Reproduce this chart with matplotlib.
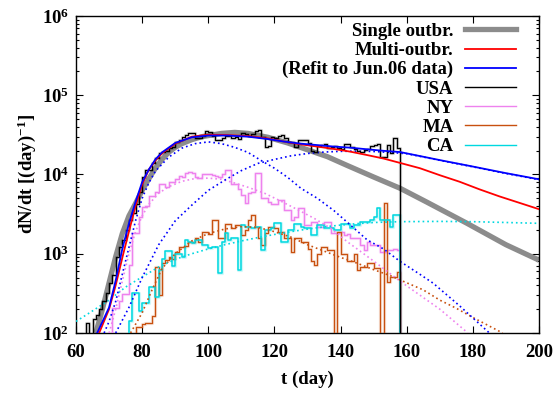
import matplotlib
matplotlib.use("Agg")
import matplotlib.pyplot as plt
import numpy as np
from matplotlib.ticker import LogLocator, FixedLocator, NullFormatter
from matplotlib.lines import Line2D

plt.rcParams['font.family'] = ['Liberation Serif', 'DejaVu Serif']
plt.rcParams['font.weight'] = 'bold'
plt.rcParams['mathtext.fontset'] = 'custom'
plt.rcParams['mathtext.rm'] = 'Liberation Serif:bold'
plt.rcParams['mathtext.bf'] = 'Liberation Serif:bold'
plt.rcParams['mathtext.it'] = 'Liberation Serif:bold'

# ---------------- data (daily counts; first day of each series) ----------------
usa_start = 62
usa = [0, 134, 0, 150, 170, 200, 250, 320, 430, 540, 900, 1200, 1500, 2000, 2700, 3300,
       4200, 6000, 9400, 11500, 11500, 14000, 16000, 18700, 19500, 20000, 21600, 22500,
       25900, 27000, 30000, 31700, 33400, 33000, 28800, 29000, 31000, 35000, 34000, 31000,
       27000, 27500, 29000, 31000, 31000, 29000, 30000, 28000, 33000, 32000, 31000, 32000,
       35000, 36600, 30000, 22000, 23000, 29500, 29000, 31000, 31500, 29000, 26000, 26000,
       22500, 27000, 27000, 27000, 25000, 20000, 19000, 23000, 23500, 24000, 21500, 22000,
       23000, 21500, 21000, 24000, 24500, 22000, 21000, 20000, 19500, 20500, 21000, 23000,
       23500, 24000, 16700, 16700, 23500, 18700, 29000, 21500]

ny_start = 71
ny = [207, 207, 250, 315, 315, 720, 1830, 1830, 2900, 3900, 4000, 5300, 5300, 6000, 7500,
      7600, 7000, 8100, 8100, 8800, 9500, 9200, 10500, 10800, 10500, 9200, 9000, 10200,
      10200, 10200, 9800, 9600, 9400, 10000, 11500, 11500, 7500, 7600, 6500, 5500, 4400,
      5800, 6000, 10400, 10400, 5100, 5100, 4500, 4300, 4300, 4800, 4800, 3550, 3550, 2650,
      2900, 3800, 3800, 2300, 2300, 2500, 2500, 2200, 2200, 2500, 2500, 1830, 1830, 1830,
      1900, 1700, 1800, 1580, 1580, 1580, 1300, 1100, 1400, 1290, 1290, 1290, 1050, 1050,
      1100, 1100, 1150, 1100]

ma_start = 78
ma = [120, 120, 130, 134, 134, 165, 680, 300, 770, 830, 900, 850, 1060, 1200, 1200, 1250,
      1400, 1400, 1580, 1400, 1900, 1900, 1800, 2650, 2650, 1580, 1580, 2400, 2400, 2100,
      2300, 2300, 1700, 2000, 2700, 3100, 2200, 1600, 1300, 1850, 2150, 2150, 2100, 1900,
      1900, 1600, 1600, 1050, 1600, 1600, 1400, 1400, 1150, 820, 720, 1000, 1230, 1230,
      1100, 1100, 0, 1900, 1000, 1000, 820, 820, 1000, 630, 680, 680, 760, 760, 660, 660,
      0, 4400, 440, 515, 515, 590]

ca_start = 76
ca = [140, 320, 320, 190, 240, 240, 380, 380, 285, 620, 870, 1070, 1070, 700, 1000, 1000,
      900, 1490, 1400, 1370, 1490, 1490, 1300, 1300, 1180, 1230, 1230, 570, 1400, 1830,
      1500, 1600, 1600, 620, 2300, 2200, 2150, 2100, 2150, 2150, 1100, 2000, 2000, 2100,
      2450, 2450, 1400, 1400, 2000, 2000, 2400, 2400, 2200, 2100, 2100, 1700, 1700, 2300,
      2300, 2100, 2100, 2100, 2000, 2000, 2400, 2400, 2400, 2100, 2300, 2300, 2500, 2500,
      2500, 2650, 2900, 3800, 2650, 2650, 2650, 2200, 3100, 3100]

# fitted curves (day, value)
single_t = [66, 68, 70, 72, 74, 76, 78, 80, 82, 84, 86, 88, 90, 92, 95, 98, 104, 108, 112,
            118, 124, 130, 136, 142, 150, 158, 166, 178, 190, 200]
single_v = [100, 200, 430, 920, 1800, 3000, 4300, 6300, 8800, 12000, 15500, 19000, 22000,
            24500, 27500, 30000, 33000, 34000, 33000, 29500, 25000, 20500, 16800, 13000,
            9300, 6700, 4500, 2450, 1300, 830]

multi_t = [67, 70, 72, 74.3, 76, 78, 80, 82, 84, 86, 90, 95, 100, 105, 112, 118, 123, 128,
           133, 138, 143, 148, 153, 158, 164, 170, 176, 182, 188, 194, 200]
multi_v = [100, 200, 400, 1000, 1900, 4000, 7500, 11500, 15000, 18500, 24500, 30000, 31700,
           31500, 30500, 28500, 26000, 24000, 22500, 21000, 19400, 17600, 15900, 14000,
           12000, 9800, 8100, 6500, 5300, 4400, 3650]

refit_t = [66.4, 70, 72, 74, 76, 78, 80, 82, 84, 86, 90, 95, 100, 106, 112, 118, 123, 128,
           133, 138, 143, 148, 153, 158, 170, 180, 190, 200]
refit_v = [100, 210, 460, 1150, 2400, 4500, 8000, 11500, 15500, 19000, 25000, 29500, 31000,
           31000, 30000, 28000, 26000, 24500, 23500, 22500, 21800, 20800, 19900, 19200,
           15200, 12600, 10400, 8700]

comp1_t = [68.5, 70, 72, 74, 76, 78, 80, 82, 84, 88, 92, 96, 100, 104, 108, 112, 116, 120,
           124, 128, 133, 138, 143, 148, 153, 158, 164, 168, 176, 185]
comp1_v = [100, 140, 250, 550, 1200, 2600, 5000, 7800, 11000, 16500, 21500, 24500, 25800,
           24500, 22000, 19000, 15000, 12000, 9200, 6700, 5000, 3500, 2300, 1500, 1150, 800,
           550, 425, 220, 100]

comp2_t = [72, 76, 80, 85, 90, 95, 100, 105, 110, 115, 120, 125, 130, 135, 140, 145, 150,
           155, 160, 170, 180, 190, 200]
comp2_v = [100, 210, 500, 1300, 2600, 4100, 6300, 8500, 11200, 13800, 15500, 17200, 18400,
           19200, 19600, 19700, 19500, 19000, 18300, 15100, 12500, 10300, 8600]

nyfit_t = [70, 72, 74, 76, 78, 80, 82, 85, 88, 92, 96, 100, 104, 108, 112, 117, 122, 127,
           132, 137, 142, 147, 152, 158, 164, 170, 178.5]
nyfit_v = [100, 200, 450, 1000, 1900, 3000, 4200, 5800, 7000, 8200, 8900, 9000, 8700, 7800,
           6900, 5800, 4600, 3600, 2800, 2100, 1420, 1000, 700, 450, 300, 200, 100]

mafit_t = [76.5, 80, 83, 86, 90, 95, 100, 105, 110, 115, 120, 125, 130, 135, 140, 145, 150,
           155, 160, 165, 170, 175, 180, 189]
mafit_v = [100, 180, 350, 650, 1000, 1450, 1800, 2050, 2200, 2150, 1900, 1620, 1300, 1080,
           900, 760, 630, 530, 430, 350, 260, 205, 157, 100]

cafit_t = [60, 65, 70, 75, 80, 85, 90, 95, 100, 105, 110, 115, 120, 125, 130, 135, 140, 145,
           150, 158, 170, 180, 190, 200]
cafit_v = [140, 190, 260, 380, 510, 680, 850, 1000, 1150, 1300, 1450, 1600, 1750, 1900,
           2050, 2180, 2300, 2400, 2480, 2540, 2560, 2540, 2480, 2420]

xticks = [60, 80, 100, 120, 140, 160, 180, 200]
yticks = [1e2, 1e3, 1e4, 1e5, 1e6]
ytick_labels = [r'$10^{2}$', r'$10^{3}$', r'$10^{4}$', r'$10^{5}$', r'$10^{6}$']
labels = ['Single outbr.', 'Multi-outbr.', '(Refit to Jun.06 data)', 'USA', 'NY', 'MA', 'CA']

# ---------------- style ----------------
c_gray = '#8c8c8c'
c_red = '#ff0000'
c_blue = '#0000ff'
c_black = '#000000'
c_ny = '#ee82ee'
c_ma = '#c8500f'
c_ca = '#00d8e0'

fig = plt.figure(figsize=(5.55, 3.93), dpi=100)
ax = fig.add_axes([76 / 555, 60 / 393, 463 / 555, 317 / 393])


def hist(start, vals, color, lw=0.9, zorder=3):
    vals = np.array(vals, dtype=float)
    vals = np.where(vals <= 0, 1e-3, vals)
    days = np.arange(start, start + len(vals) + 1)
    yy = np.concatenate([[1e-3], vals, [1e-3]])
    xx = np.concatenate([[days[0]], days])
    ax.step(xx, yy, where='post', color=color, lw=2.3, alpha=0.18, zorder=zorder - 0.5)
    ax.step(xx, yy, where='post', color=color, lw=lw, zorder=zorder)


dot = (0, (1, 1.8))

ax.plot(single_t, single_v, color=c_gray, lw=3.8, zorder=2, solid_capstyle='butt')
hist(usa_start, usa, c_black, zorder=4)
hist(ny_start, ny, c_ny, lw=1.0)
hist(ma_start, ma, c_ma)
hist(ca_start, ca, c_ca, lw=1.1)

ax.plot(nyfit_t, nyfit_v, color=c_ny, lw=1.2, ls=dot, zorder=3)
ax.plot(mafit_t, mafit_v, color=c_ma, lw=1.2, ls=dot, zorder=3)
ax.plot(cafit_t, cafit_v, color=c_ca, lw=1.2, ls=dot, zorder=3)
ax.plot(comp1_t, comp1_v, color=c_blue, lw=1.2, ls=dot, zorder=3)
ax.plot(comp2_t, comp2_v, color=c_blue, lw=1.2, ls=dot, zorder=3)
ax.plot(multi_t, multi_v, color=c_red, lw=1.3, zorder=5)
ax.plot(refit_t, refit_v, color=c_blue, lw=1.3, zorder=5)

ax.set_xlim(60, 200)
ax.set_yscale('log')
ax.set_ylim(100, 1e6)
ax.xaxis.set_major_locator(FixedLocator(xticks))
ax.set_xticklabels([str(t) for t in xticks])
ax.yaxis.set_minor_locator(LogLocator(base=10, subs=np.arange(2, 10), numticks=20))
ax.yaxis.set_minor_formatter(NullFormatter())
ax.set_yticks(yticks)
ax.set_yticklabels(ytick_labels)
ax.tick_params(which='both', direction='in', top=True, right=True, labelsize=13.5, width=0.8)
ax.tick_params(which='major', length=5)
ax.tick_params(which='minor', length=2.5)
ax.tick_params(axis='x', pad=8)
ax.tick_params(axis='y', pad=5)
for s in ax.spines.values():
    s.set_linewidth(1.0)

ax.set_xlabel('t (day)', fontsize=13.5, fontweight='bold', labelpad=7)
ax.set_ylabel(r'dN/dt [(day)$^{-1}$]', fontsize=13.5, fontweight='bold', labelpad=3)

handles = [Line2D([], [], color=c_gray, lw=3.8),
           Line2D([], [], color=c_red, lw=1.3),
           Line2D([], [], color=c_blue, lw=1.3),
           Line2D([], [], color=c_black, lw=1.0),
           Line2D([], [], color=c_ny, lw=1.0),
           Line2D([], [], color=c_ma, lw=1.0),
           Line2D([], [], color=c_ca, lw=1.0)]
leg = ax.legend(handles, labels, loc='upper right', bbox_to_anchor=(0.975, 1.014),
                frameon=False, markerfirst=False, fontsize=13.5, handlelength=2.75,
                labelspacing=0.11, handletextpad=0.6, borderaxespad=0.2)
for t in leg.get_texts():
    t.set_fontweight('bold')

fig.savefig('out.png', dpi=100)
